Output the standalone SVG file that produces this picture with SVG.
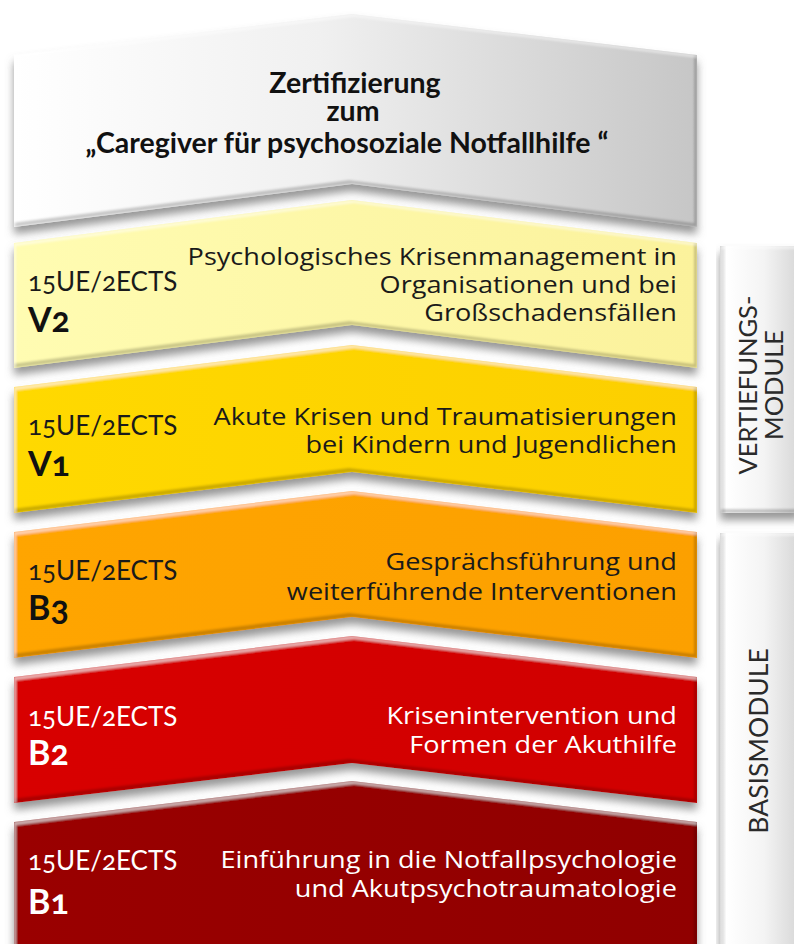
<svg xmlns="http://www.w3.org/2000/svg" width="794" height="944" viewBox="0 0 794 944">
<defs>
<style>
.t{font-family:"Open Sans",Lato,"Liberation Sans",sans-serif;font-size:24px;fill:#1a1a1a;transform:scale(1.13,1);}
.r{text-anchor:end;}
.c{font-family:Lato,"Open Sans","Liberation Sans",sans-serif;font-size:28.5px;text-anchor:middle;font-weight:bold;fill:#111;}
.ue{font-family:Lato,"Open Sans","Liberation Sans",sans-serif;font-size:26px;fill:#1a1a1a;font-variant-numeric:oldstyle-nums;}
.code{font-family:Lato,"Open Sans","Liberation Sans",sans-serif;font-size:34px;font-weight:bold;fill:#111;font-variant-numeric:oldstyle-nums;}
.w{fill:#fff;}
.side{font-family:Lato,"Open Sans","Liberation Sans",sans-serif;font-size:25.5px;fill:#2a2a2a;text-anchor:middle;}
</style>
<linearGradient id="gGray" x1="0" y1="0" x2="1" y2="0"><stop offset="0" stop-color="#ffffff"/><stop offset="0.45" stop-color="#f0f0f0"/><stop offset="1" stop-color="#c6c6c6"/></linearGradient>
<linearGradient id="gV2" x1="0" y1="0" x2="1" y2="0"><stop offset="0" stop-color="#fffcb2"/><stop offset="1" stop-color="#fbf29c"/></linearGradient>
<linearGradient id="gV1" x1="0" y1="0" x2="1" y2="0"><stop offset="0" stop-color="#ffd900"/><stop offset="1" stop-color="#fccf00"/></linearGradient>
<linearGradient id="gB3" x1="0" y1="0" x2="1" y2="0"><stop offset="0" stop-color="#ffa500"/><stop offset="1" stop-color="#fca000"/></linearGradient>
<linearGradient id="gB2" x1="0" y1="0" x2="1" y2="0"><stop offset="0" stop-color="#d80000"/><stop offset="1" stop-color="#d00000"/></linearGradient>
<linearGradient id="gB1" x1="0" y1="0" x2="1" y2="0"><stop offset="0" stop-color="#9a0000"/><stop offset="1" stop-color="#900000"/></linearGradient>
<linearGradient id="gSide" x1="0" y1="0" x2="1" y2="0"><stop offset="0" stop-color="#c8c8c8"/><stop offset="0.08" stop-color="#ffffff"/><stop offset="0.55" stop-color="#f4f4f4"/><stop offset="1" stop-color="#d6d6d6"/></linearGradient>
<filter id="bevel" x="-5%" y="-10%" width="110%" height="130%">
<feGaussianBlur in="SourceAlpha" stdDeviation="4" result="b"/>
<feOffset in="b" dx="0" dy="7" result="bo"/>
<feFlood flood-color="#6a6a6a" flood-opacity="0.7"/>
<feComposite in2="bo" operator="in" result="shadow"/>
<feOffset in="SourceAlpha" dx="-3" dy="-4" result="s1"/>
<feComposite in="SourceAlpha" in2="s1" operator="out" result="rim1"/>
<feGaussianBlur in="rim1" stdDeviation="1.2" result="rim1b"/>
<feFlood flood-color="#000" flood-opacity="0.4"/>
<feComposite in2="rim1b" operator="in" result="dark0"/>
<feComposite in="dark0" in2="SourceAlpha" operator="in" result="dark"/>
<feOffset in="SourceAlpha" dx="2" dy="3" result="s2"/>
<feComposite in="SourceAlpha" in2="s2" operator="out" result="rim2"/>
<feGaussianBlur in="rim2" stdDeviation="1" result="rim2b"/>
<feFlood flood-color="#fff" flood-opacity="0.45"/>
<feComposite in2="rim2b" operator="in" result="light0"/>
<feComposite in="light0" in2="SourceAlpha" operator="in" result="light"/>
<feMerge><feMergeNode in="shadow"/><feMergeNode in="SourceGraphic"/><feMergeNode in="dark"/><feMergeNode in="light"/></feMerge>
</filter>
</defs>
<rect width="794" height="944" fill="#ffffff"/>

<g id="side-vertiefung">
<rect x="720" y="246" width="80" height="267" fill="url(#gSide)" filter="url(#bevel)"/>
<text class="side" transform="translate(757,385) rotate(-90)">VERTIEFUNGS-</text>
<text class="side" transform="translate(783,385) rotate(-90)">MODULE</text>
</g>
<g id="side-basis">
<rect x="720" y="533" width="80" height="430" fill="url(#gSide)" filter="url(#bevel)"/>
<text class="side" style="font-size:26.5px" transform="translate(768,741) rotate(-90)">BASISMODULE</text>
</g>

<g id="b1">
<polygon points="14,822 352,781 697,822 697,970 14,970" fill="url(#gB1)" filter="url(#bevel)"/>
<text class="ue w" x="28" y="870">15UE/2ECTS</text>
<text class="code w" x="28" y="914">B1</text>
<text class="t r w" x="599" y="868">Einführung in die Notfallpsychologie</text>
<text class="t r w" x="599" y="897">und Akutpsychotraumatologie</text>
</g>

<g id="b2">
<polygon points="14,677 352,636 697,677 697,803 352,763 14,803" fill="url(#gB2)" filter="url(#bevel)"/>
<text class="ue w" x="28" y="726">15UE/2ECTS</text>
<text class="code w" x="28" y="765">B2</text>
<text class="t r w" x="599" y="724">Krisenintervention und</text>
<text class="t r w" x="599" y="753">Formen der Akuthilfe</text>
</g>

<g id="b3">
<polygon points="14,532 352,491 697,532 697,658 352,617 14,658" fill="url(#gB3)" filter="url(#bevel)"/>
<text class="ue" x="28" y="580">15UE/2ECTS</text>
<text class="code" x="28" y="620">B3</text>
<text class="t r" x="599" y="570">Gesprächsführung und</text>
<text class="t r" x="599" y="600">weiterführende Interventionen</text>
</g>

<g id="v1">
<polygon points="14,387 352,345 697,387 697,513 352,472 14,513" fill="url(#gV1)" filter="url(#bevel)"/>
<text class="ue" x="28" y="435">15UE/2ECTS</text>
<text class="code" x="28" y="476">V1</text>
<text class="t r" x="599" y="425">Akute Krisen und Traumatisierungen</text>
<text class="t r" x="599" y="453">bei Kindern und Jugendlichen</text>
</g>

<g id="v2">
<polygon points="14,243 352,200 697,243 697,368 352,325 14,368" fill="url(#gV2)" filter="url(#bevel)"/>
<text class="ue" x="28" y="291">15UE/2ECTS</text>
<text class="code" x="28" y="332">V2</text>
<text class="t r" x="599" y="265">Psychologisches Krisenmanagement in</text>
<text class="t r" x="599" y="293">Organisationen und bei</text>
<text class="t r" x="599" y="321">Großschadensfällen</text>
</g>

<g id="zertifizierung">
<polygon points="14,55 352,14 697,55 697,227 352,184 14,227" fill="url(#gGray)" filter="url(#bevel)"/>
<text class="c" x="355" y="93">Zertifizierung</text>
<text class="c" x="353" y="121">zum</text>
<text class="c" x="347" y="153">„Caregiver für psychosoziale Notfallhilfe “</text>
</g>

<g id="connectors"></g>
</svg>
